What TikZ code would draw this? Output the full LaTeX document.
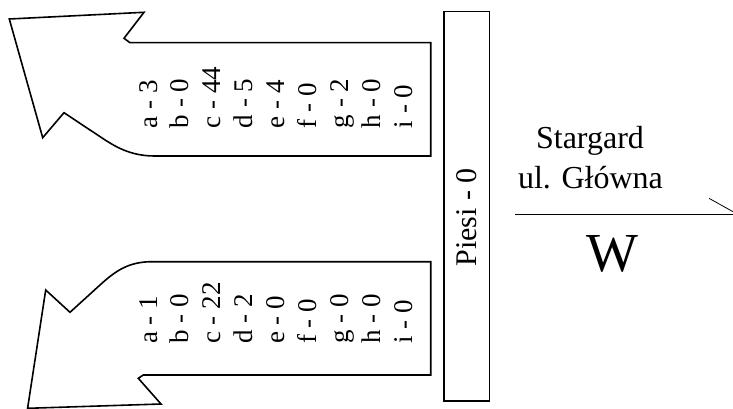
\documentclass[tikz,border=0pt]{standalone}
\usepackage{fontspec}
\setmainfont{Liberation Serif}
\begin{document}
\begin{tikzpicture}[x=1pt,y=1pt,
  outline/.style={draw=black,line width=1.6pt,line join=miter,fill=white},
  lbl/.style={rotate=90,anchor=base west,inner sep=0pt,font=\fontsize{27}{32}\selectfont},
  boxstyle/.style={draw=black,line width=1.5pt,minimum width=45.3pt,minimum height=389.3pt,inner sep=0pt},
  bigtxt/.style={anchor=base,inner sep=0pt,font=\fontsize{32}{40}\selectfont},
  thinline/.style={draw=black,line width=1pt}]
\useasboundingbox (0,0) rectangle (733,408);
\clip (0,0) rectangle (733,408);
% upper arrow
\draw[outline] (9.3,389) -- (144,395.7) -- (124,369.7) -- (130,365.3) -- (430.7,365.3)
  -- (430.7,252) -- (155,252) .. controls (130,252) and (115,261.4) .. (100,271.4)
  -- (64,295.3) -- (42.7,270.3) -- cycle;
% lower arrow
\draw[outline] (430.7,146.3) -- (152,146.3) .. controls (128,146.3) and (115,136.6) .. (100,123)
  -- (70,95.7) -- (45.7,118) -- (27.6,-0.3) -- (161,4) -- (138.3,29.7) -- (143.3,33)
  -- (430.7,33) -- cycle;
% labels
\foreach \t [count=\i from 0] in {a - 3,b - 0,c - 44,d - 5,e - 4,f - 0,g - 2,h - 0,i - 0}
  \node[lbl] (up\i) at ({157+31.9*\i},279.7) {\t};
\foreach \t [count=\i from 0] in {a - 1,b - 0,c - 22,d - 2,e - 0,f - 0,g - 0,h - 0,i - 0}
  \node[lbl] (lo\i) at ({157+31.9*\i},64) {\t};
% pedestrians box
\node[boxstyle] (piesibox) at (466.65,201.65) {};
\node[rotate=90,anchor=base,inner sep=0pt,font=\fontsize{30}{36}\selectfont] (piesi) at (476.5,190.5) {Piesi - 0};
% location text
\node[bigtxt] (city) at (590,259.7) {Stargard};
\node[bigtxt] (street) at (590.5,219.7) {ul. Główna};
\node[anchor=base,inner sep=0pt,font=\fontsize{55}{60}\selectfont] (w) at (612,136.3) {W};
% lines
\coordinate (hl) at (515,193.7);
\coordinate (hr) at (733,193.7);
\draw[thinline] (hl) -- (hr);
\coordinate (d1) at (709,209.7);
\coordinate (d2) at (735,195.2);
\draw[draw=black,line width=0.8pt] (d1) -- (d2);
\end{tikzpicture}
\end{document}
